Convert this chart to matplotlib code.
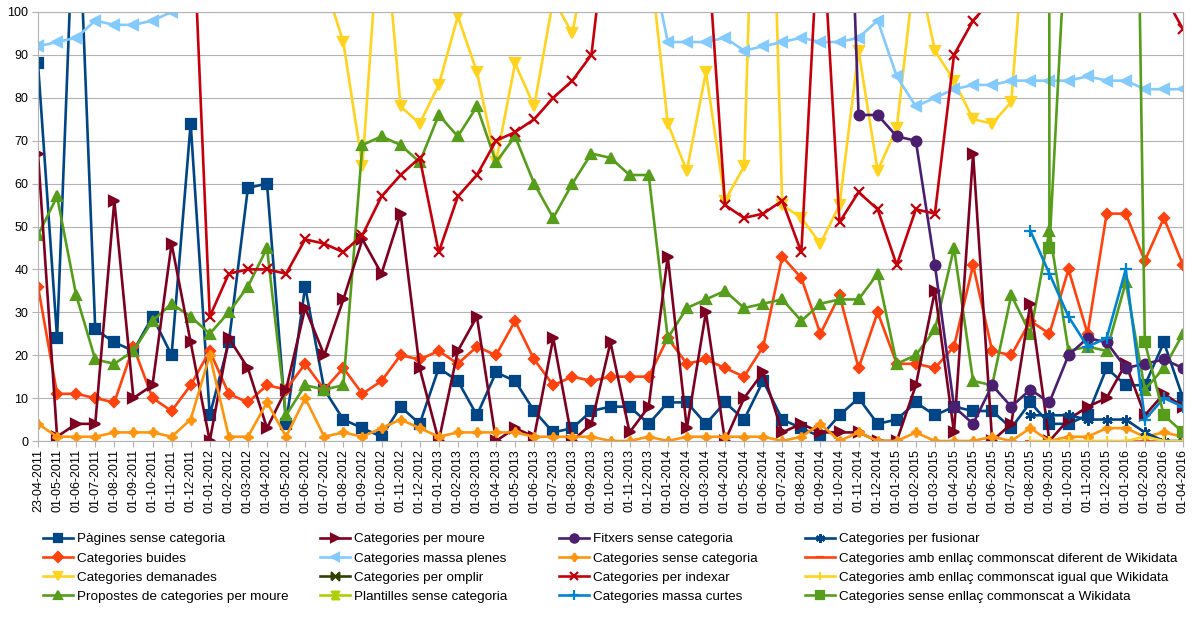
import numpy as np
import matplotlib
matplotlib.use("Agg")
import matplotlib.pyplot as plt

plt.rcParams["font.family"] = ["Liberation Sans", "DejaVu Sans"]

N = None

# ------------------------------------------------------------
# DADES (llegides del gràfic; valors > 100 queden fora d'escala)
# ------------------------------------------------------------
dates = [
    "23-04-2011", "01-05-2011", "01-06-2011", "01-07-2011", "01-08-2011",
    "01-09-2011", "01-10-2011", "01-11-2011", "01-12-2011", "01-01-2012",
    "01-02-2012", "01-03-2012", "01-04-2012", "01-05-2012", "01-06-2012",
    "01-07-2012", "01-08-2012", "01-09-2012", "01-10-2012", "01-11-2012",
    "01-12-2012", "01-01-2013", "01-02-2013", "01-03-2013", "01-04-2013",
    "01-05-2013", "01-06-2013", "01-07-2013", "01-08-2013", "01-09-2013",
    "01-10-2013", "01-11-2013", "01-12-2013", "01-01-2014", "01-02-2014",
    "01-03-2014", "01-04-2014", "01-05-2014", "01-06-2014", "01-07-2014",
    "01-08-2014", "01-09-2014", "01-10-2014", "01-11-2014", "01-12-2014",
    "01-01-2015", "01-02-2015", "01-03-2015", "01-04-2015", "01-05-2015",
    "01-06-2015", "01-07-2015", "01-08-2015", "01-09-2015", "01-10-2015",
    "01-11-2015", "01-12-2015", "01-01-2016", "01-02-2016", "01-03-2016",
    "01-04-2016",
]

pagines = [88, 24, 140, 26, 23, 21, 29, 20, 74, 6,
           23, 59, 60, 4, 36, 12, 5, 3, 1, 8,
           4, 17, 14, 6, 16, 14, 7, 2, 3, 7,
           8, 8, 4, 9, 9, 4, 9, 5, 14, 5,
           3, 1, 6, 10, 4, 5, 9, 6, 8, 7,
           7, 3, 9, 4, 4, 6, 17, 13, 13, 23,
           10]

buides = [36, 11, 11, 10, 9, 22, 10, 7, 13, 21,
          11, 9, 13, 12, 18, 12, 17, 11, 14, 20,
          19, 21, 18, 22, 20, 28, 19, 13, 15, 14,
          15, 15, 15, 24, 18, 19, 17, 15, 22, 43,
          38, 25, 34, 17, 30, 18, 18, 17, 22, 41,
          21, 20, 28, 25, 40, 25, 53, 53, 42, 52,
          41]

demanades = [N, N, N, N, N, N, N, N, N, N,
             N, N, N, N, N, 107, 93, 64, 128, 78,
             74, 83, 99, 86, 65, 88, 78, 103, 95, 119,
             N, N, 115, 74, 63, 86, 56, 64, 210, 55,
             52, 46, 55, 91, 63, 73, 112, 91, 84, 75,
             74, 79, 136, N, N, N, N, N, N, N,
             N]

propostes = [48, 57, 34, 19, 18, 21, 28, 32, 29, 25,
             30, 36, 45, 6, 13, 12, 13, 69, 71, 69,
             65, 76, 71, 78, 65, 71, 60, 52, 60, 67,
             66, 62, 62, 24, 31, 33, 35, 31, 32, 33,
             28, 32, 33, 33, 39, 18, 20, 26, 45, 14,
             13, 34, 25, 49, 21, 22, 21, 37, 12, 17,
             25]

per_moure = [67, 1, 4, 4, 56, 10, 13, 46, 23, 0,
             24, 17, 3, 12, 31, 20, 33, 47, 39, 53,
             17, 0, 21, 29, 0, 3, 1, 24, 0, 4,
             23, 2, 8, 43, 3, 30, 0, 10, 16, 2,
             4, 2, 2, 2, 0, 0, 13, 35, 2, 67,
             0, 4, 32, 0, 5, 8, 10, 18, 6, 11,
             8]

massa_plenes = [92, 93, 94, 98, 97, 97, 98, 100, N, N,
                N, N, N, N, N, N, N, N, N, N,
                N, N, N, N, N, N, N, N, N, N,
                N, N, 115, 93, 93, 93, 94, 91, 92, 93,
                94, 93, 93, 94, 98, 85, 78, 80, 82, 83,
                83, 84, 84, 84, 84, 85, 84, 84, 82, 82,
                82]

per_omplir = [N] * 61
plantilles = [N] * 61

fitxers = [N] * 42 + [200, 76, 76, 71, 70, 41, 8, 4, 13, 8,
                      12, 9, 20, 24, 23, 17, 18, 19, 17]

sense_categoria = [4, 1, 1, 1, 2, 2, 2, 1, 5, 20,
                   1, 1, 9, 1, 10, 1, 2, 1, 3, 5,
                   3, 1, 2, 2, 2, 2, 1, 1, 1, 1,
                   0, 0, 1, 0, 1, 1, 1, 1, 1, 0,
                   1, 4, 0, 2, 0, 0, 2, 0, 0, 0,
                   1, 0, 3, 0, 1, 1, 3, 3, 1, 2,
                   1]

per_indexar = [N, N, N, N, N, N, N, N, 135, 29,
               39, 40, 40, 39, 47, 46, 44, 48, 57, 62,
               66, 44, 57, 62, 70, 72, 75, 80, 84, 90,
               128, N, N, N, N, 121, 55, 52, 53, 56,
               44, 128, 51, 58, 54, 41, 54, 53, 90, 98,
               103, N, N, N, N, N, N, N, N, 104,
               96]

massa_curtes = [N] * 52 + [49, 39, 29, 22, 24, 40, 5, 10, 8]
per_fusionar = [N] * 52 + [6, 6, 6, 5, 5, 5, 2, 0, 0]
diferent_wd = [N] * 52 + [0, 0, 0, 0, 0, 0, 0, 0, 0]
igual_wd = [N] * 52 + [0, 0, 0, 0, 0, 0, 1, 0, 0]
sense_enllac = [N] * 52 + [8000, 45, 130, N, N, 316, 23, 6, 2]

# ------------------------------------------------------------
# ESTIL DE LES SÈRIES (paleta per defecte de LibreOffice)
# ------------------------------------------------------------
bowtie = [(-1, -1), (-1, 1), (1, -1), (1, 1), (-1, -1)]
sandglass = [(-1, -1), (1, -1), (-1, 1), (1, 1), (-1, -1)]

series = [
    ("Pàgines sense categoria", pagines, "#004586", "s", 6.5),
    ("Categories buides", buides, "#ff420e", "D", 5.5),
    ("Categories demanades", demanades, "#ffd320", "v", 7.5),
    ("Propostes de categories per moure", propostes, "#579d1c", "^", 7.5),
    ("Categories per moure", per_moure, "#7e0021", ">", 7.5),
    ("Categories massa plenes", massa_plenes, "#83caff", "<", 7.5),
    ("Categories per omplir", per_omplir, "#314004", bowtie, 6.5),
    ("Plantilles sense categoria", plantilles, "#aecf00", sandglass, 6.5),
    ("Fitxers sense categoria", fitxers, "#4b1f6f", "o", 7),
    ("Categories sense categoria", sense_categoria, "#ff950e", (4, 1, 0), 7),
    ("Categories per indexar", per_indexar, "#c5000b", "x", 6.5),
    ("Categories massa curtes", massa_curtes, "#0084d1", "+", 8),
    ("Categories per fusionar", per_fusionar, "#004586", (6, 2, 0), 7.5),
    ("Categories amb enllaç commonscat diferent de Wikidata", diferent_wd, "#ff420e", "_", 7),
    ("Categories amb enllaç commonscat igual que Wikidata", igual_wd, "#ffd320", "|", 7),
    ("Categories sense enllaç commonscat a Wikidata", sense_enllac, "#579d1c", "s", 6.5),
]

x = np.arange(len(dates))

fig = plt.figure(figsize=(12, 6.22), dpi=100)
ax = fig.add_axes([38 / 1200, 1 - 441 / 622, (1183 - 38) / 1200, (441 - 12) / 622])

handles = []
for label, vals, color, marker, ms in series:
    y = np.array([np.nan if v is None else v for v in vals], dtype=float)
    line, = ax.plot(x, y, color=color, lw=1.9, marker=marker, ms=ms,
                    mfc=color, mec=color, mew=1.6, label=label,
                    solid_joinstyle="miter")
    handles.append(line)

ax.set_xlim(0, len(dates) - 1)
ax.set_ylim(0, 100)
ax.set_xticks(x)
ax.set_xticklabels(dates, rotation=90, fontsize=9)
ax.set_yticks(range(0, 101, 10))
ax.tick_params(axis="y", labelsize=9, length=4, color="#b3b3b3", pad=3)
ax.tick_params(axis="x", length=4, color="#b3b3b3", pad=2)
ax.yaxis.grid(True, color="#b3b3b3", lw=0.8)
ax.set_axisbelow(True)
for sp in ax.spines.values():
    sp.set_color("#b3b3b3")
    sp.set_linewidth(0.8)

# ------------------------------------------------------------
# LLEGENDA (4 columnes sota el gràfic)
# ------------------------------------------------------------
col_x = [43, 320, 559, 805]
for c in range(4):
    leg = fig.legend(handles=handles[c * 4:(c + 1) * 4], loc="upper left",
                     bbox_to_anchor=(col_x[c] / 1200, 1 - 533 / 622),
                     frameon=False, fontsize=9.7, borderpad=0,
                     borderaxespad=0, handlelength=2.2, handletextpad=0.35,
                     labelspacing=0.5, markerscale=0.85)

fig.savefig("out.png", dpi=100)
